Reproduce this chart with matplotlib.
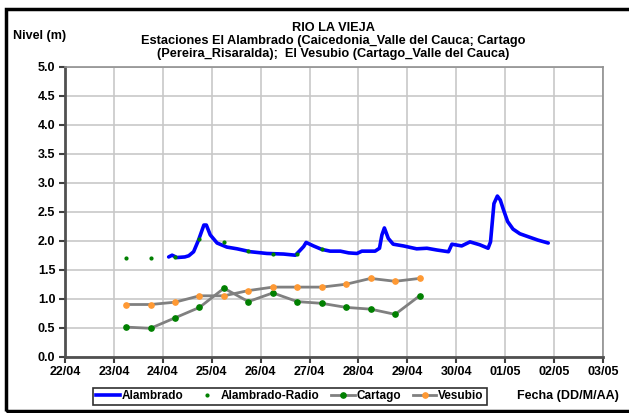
import matplotlib
matplotlib.use("Agg")
import matplotlib.pyplot as plt
from matplotlib.lines import Line2D

plt.rcParams['font.family'] = ['Liberation Sans', 'DejaVu Sans']
plt.rcParams['font.weight'] = 'bold'

# x = days after 22/04 00:00
date_labels = ["22/04", "23/04", "24/04", "25/04", "26/04", "27/04",
               "28/04", "29/04", "30/04", "01/05", "02/05", "03/05"]

alambrado_x = [2.12, 2.19, 2.29, 2.45, 2.53, 2.63, 2.73, 2.84, 2.89, 2.97,
               3.11, 3.31, 3.52, 3.79, 4.13, 4.47, 4.71, 4.78, 4.88, 4.93,
               5.08, 5.25, 5.42, 5.63, 5.80, 5.97, 6.07, 6.34, 6.43, 6.48,
               6.53, 6.61, 6.71, 6.92, 7.19, 7.40, 7.60, 7.84, 7.91, 8.11,
               8.28, 8.48, 8.65, 8.70, 8.77, 8.84, 8.90, 8.97, 9.05, 9.16,
               9.30, 9.50, 9.67, 9.88]
alambrado_y = [1.72, 1.75, 1.71, 1.72, 1.74, 1.81, 2.01, 2.27, 2.27, 2.10,
               1.96, 1.89, 1.86, 1.81, 1.78, 1.77, 1.75, 1.81, 1.90, 1.97,
               1.91, 1.85, 1.82, 1.82, 1.79, 1.78, 1.82, 1.82, 1.87, 2.10,
               2.22, 2.04, 1.94, 1.91, 1.86, 1.87, 1.84, 1.81, 1.94, 1.91,
               1.98, 1.93, 1.87, 1.98, 2.64, 2.77, 2.70, 2.52, 2.33, 2.20,
               2.12, 2.06, 2.01, 1.96]

radio_x = [1.25, 1.75, 2.25, 2.75, 3.25, 3.75, 4.25, 4.75, 5.25]
radio_y = [1.71, 1.70, 1.72, 2.03, 1.97, 1.82, 1.77, 1.77, 1.85]

station_x = [1.25, 1.75, 2.25, 2.75, 3.25, 3.75, 4.25, 4.75, 5.25, 5.75, 6.25, 6.75, 7.25]
cartago_y = [0.51, 0.49, 0.67, 0.85, 1.18, 0.95, 1.10, 0.95, 0.92, 0.85, 0.82, 0.73, 1.05]
vesubio_y = [0.90, 0.90, 0.94, 1.05, 1.05, 1.14, 1.20, 1.20, 1.20, 1.25, 1.35, 1.30, 1.35]

blue = '#0000FF'
green = '#008000'
orange = '#FF9933'
gray = '#808080'

fig = plt.figure(figsize=(6.29, 4.13), dpi=100)
ax = fig.add_axes([0.1033, 0.1363, 0.8554, 0.7022])

ax.plot(alambrado_x, alambrado_y, color=blue, lw=2.6, solid_capstyle='round', zorder=3)
ax.plot(radio_x, radio_y, linestyle='none', marker='o', ms=2.0, color=green, zorder=4)
ax.plot(station_x, cartago_y, color=gray, lw=2, marker='o', ms=3.8,
        mfc=green, mec=green, zorder=2)
ax.plot(station_x, vesubio_y, color=gray, lw=2, marker='o', ms=3.8,
        mfc=orange, mec=orange, zorder=2)

ax.set_xlim(0, 11)
ax.set_ylim(0, 5)
ax.set_xticks(range(len(date_labels)))
ax.set_xticklabels(date_labels)
ax.set_yticks([i * 0.5 for i in range(11)])
ax.set_yticklabels(["%.1f" % (i * 0.5) for i in range(11)])
ax.tick_params(labelsize=9, length=4, width=1.5, color='#404040', pad=3)
for lab in ax.get_xticklabels() + ax.get_yticklabels():
    lab.set_fontweight('bold')

ax.grid(True, color='#c8c8c8', lw=1.2)
ax.set_axisbelow(True)
for s in ['left', 'bottom']:
    ax.spines[s].set_color('#505050')
    ax.spines[s].set_linewidth(2)
for s in ['top', 'right']:
    ax.spines[s].set_color('#909090')
    ax.spines[s].set_linewidth(1.2)

fig.text(0.53, 1 - 41 / 413,
         "RIO LA VIEJA\nEstaciones El Alambrado (Caicedonia_Valle del Cauca; Cartago\n"
         "(Pereira_Risaralda);  El Vesubio (Cartago_Valle del Cauca)",
         ha='center', va='center', fontsize=9.2, fontweight='bold', linespacing=1.08)
fig.text(13 / 629, 1 - 36 / 413, "Nivel (m)", ha='left', va='center',
         fontsize=9, fontweight='bold')
fig.text(517 / 629, 1 - 396 / 413, "Fecha (DD/M/AA)", ha='left', va='center',
         fontsize=9, fontweight='bold')

handles = [
    Line2D([], [], color=blue, lw=2.6),
    Line2D([], [], linestyle='none', marker='o', ms=2.0, color=green),
    Line2D([], [], color=gray, lw=2, marker='o', ms=3.8, mfc=green, mec=green),
    Line2D([], [], color=gray, lw=2, marker='o', ms=3.8, mfc=orange, mec=orange),
]
leg = fig.legend(handles, ["Alambrado", "Alambrado-Radio", "Cartago", "Vesubio"],
                 loc='center', bbox_to_anchor=(0.461, 0.04), ncol=4,
                 prop={'size': 8.5, 'weight': 'bold'}, fancybox=False,
                 handlelength=2.0, handletextpad=0.15, columnspacing=1.0,
                 borderpad=0.25, framealpha=1)
leg.get_frame().set_edgecolor('#303030')
leg.get_frame().set_linewidth(1.2)

# outer frame
fig.patches.append(plt.Rectangle((6 / 629, 2 / 413), 1.0, 1 - 11 / 413,
                                 transform=fig.transFigure, fill=False,
                                 edgecolor='black', lw=2.5))

fig.savefig("out.png", dpi=100)
